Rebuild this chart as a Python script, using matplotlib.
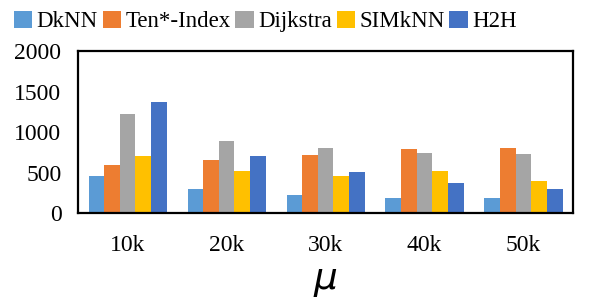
import numpy as np
import matplotlib
matplotlib.use('Agg')
import matplotlib.pyplot as plt

categories = ['10k', '20k', '30k', '40k', '50k']
series = ['DkNN', 'Ten*-Index', 'Dijkstra', 'SIMkNN', 'H2H']
dknn = [457, 296, 222, 185, 185]
ten_index = [593, 654, 716, 790, 802]
dijkstra = [1222, 889, 802, 741, 728]
simknn = [704, 519, 457, 519, 395]
h2h = [1370, 704, 506, 370, 296]
colors = ['#5B9BD5', '#ED7D31', '#A5A5A5', '#FFC000', '#4472C4']

plt.rcParams['font.family'] = ['Liberation Serif', 'DejaVu Serif']

fig = plt.figure(figsize=(5.92, 3.04), dpi=100)
ax = fig.add_axes([0.132, 0.299, 0.836, 0.533])

x = np.arange(len(categories))
w = 0.158
for i, (name, vals) in enumerate(zip(series, [dknn, ten_index, dijkstra, simknn, h2h])):
    ax.bar(x + (i - 2) * w, vals, w, color=colors[i], label=name)

ax.set_xlim(-0.5, 4.5)
ax.set_ylim(0, 2000)
ax.set_yticks([0, 500, 1000, 1500, 2000])
ax.set_xticks(x)
ax.set_xticklabels(categories)
ax.tick_params(length=0, labelsize=17)
ax.tick_params(axis='x', pad=16)
ax.tick_params(axis='y', pad=12)
for s in ax.spines.values():
    s.set_linewidth(1.6)
    s.set_color('black')

ax.set_xlabel(r'$\mu$', fontsize=27, labelpad=6)

fig.legend(loc='upper left', bbox_to_anchor=(0.0, 1.01), ncol=5, frameon=False,
           fontsize=16.5, handlelength=0.8, handleheight=0.8, handletextpad=0.2,
           columnspacing=0.2, borderaxespad=0.2)

fig.savefig('out.png', dpi=100)
